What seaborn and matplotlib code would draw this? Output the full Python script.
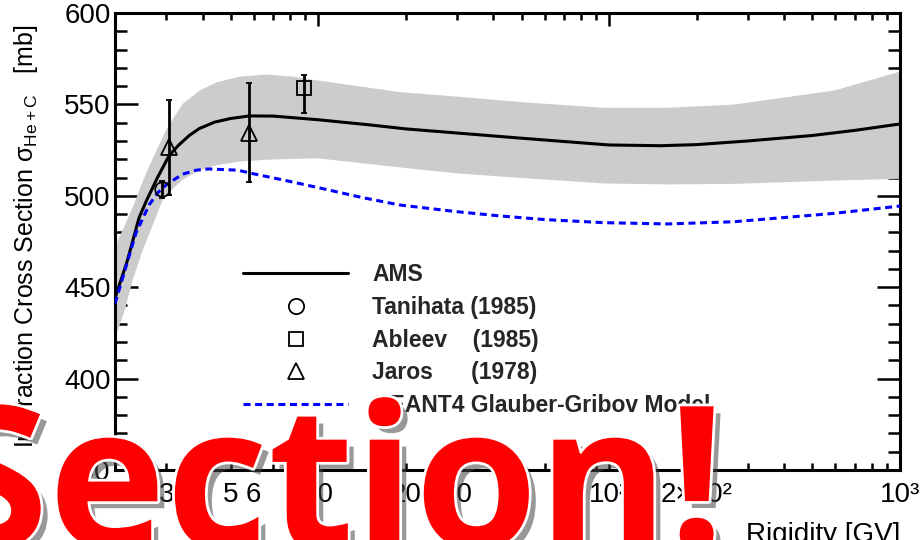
import matplotlib
matplotlib.use('Agg')
import matplotlib.pyplot as plt
import seaborn as sns
import matplotlib.patheffects as pe
from matplotlib.lines import Line2D
from matplotlib.ticker import FixedLocator, FuncFormatter, MultipleLocator

# ---------------- data ----------------
ams_R = [2, 2.2, 2.42, 2.56, 2.8, 3.07, 3.3, 3.6, 3.9, 4.4, 5, 5.8, 7, 10, 15, 20, 50, 100, 150, 200,
         300, 500, 700, 1000]
ams_sigma = [444, 464, 488, 497, 510, 522, 527.5, 533, 536.8, 540.3, 542.3, 543.7, 543.6, 541.6, 538.8,
             536.6, 531.5, 527.8, 527.4, 528, 530, 533, 535.8, 539.3]

band_R = [2, 2.15, 2.3, 2.48, 2.62, 2.9, 3.0, 3.4, 3.9, 4.45, 5.35, 6.6, 8.1, 10, 19, 30, 50, 96, 159,
          268, 594, 1000]
band_hi = [473, 484, 494.5, 508, 517, 532, 537, 550.5, 557.9, 562.3, 565.5, 566.6, 565.5, 563.3, 557,
           554.5, 551.5, 548.4, 548.4, 550.2, 557.9, 568.3]
band_lo = [423, 437.5, 455, 470.4, 480, 497.7, 501, 509, 514.5, 517, 519, 520, 520.5, 520.7, 515.8,
           512.5, 510, 507, 506.5, 506.8, 508.6, 509.6]

g4_R = [2, 2.18, 2.36, 2.62, 2.8, 3.0, 3.41, 3.8, 4.2, 5.3, 5.8, 7.6, 10.1, 14, 19, 30, 42, 60, 96, 159,
        268, 594, 1000]
g4_sigma = [441, 461, 479.6, 495, 501.5, 506, 511.8, 514, 514.7, 514, 512.5, 508.6, 504.3, 499.2, 495,
            491.3, 489, 487, 485.3, 484.6, 485.8, 490.4, 494.4]

tan_R, tan_sigma, tan_err = [2.90], [503.5], [4.5]
abl_R, abl_sigma, abl_err_lo, abl_err_hi = [8.9], [558.8], [13.3], [7.2]
jar_R, jar_sigma, jar_err = [3.07, 5.78], [526.5, 534.5], [26, 27]

x_label_ticks = [2, 3, 5, 6, 10, 20, 30, 100, 200, 1000]
x_label_texts = ['2', '3', '5', '6', '10', '20', '30', '10²', '2×10²', '10³']

legend_labels = ['AMS', 'Tanihata (1985)', 'Ableev    (1985)', 'Jaros      (1978)',
                 'GEANT4 Glauber-Gribov Model']

# ---------------- style ----------------
sns.set_theme(style='ticks')
plt.rcParams['font.family'] = ['Liberation Sans', 'DejaVu Sans']
plt.rcParams['mathtext.fontset'] = 'custom'
plt.rcParams['mathtext.rm'] = 'Liberation Sans'
plt.rcParams['mathtext.it'] = 'Liberation Sans:italic'

fig = plt.figure(figsize=(9.22, 5.40), dpi=100)
ax = fig.add_axes([115 / 922, 1 - 470 / 540, 785 / 922, 457 / 540])
ax.set_xscale('log')

ax.fill_between(band_R, band_lo, band_hi, color='#cccccc', lw=0, zorder=1)
sns.lineplot(x=ams_R, y=ams_sigma, ax=ax, color='black', lw=2.2, zorder=3)
sns.lineplot(x=g4_R, y=g4_sigma, ax=ax, color='#0000ff', lw=2.2, linestyle=(0, (2.3, 1.5)), zorder=3)

ekw = dict(mfc='none', mec='black', mew=1.3, ecolor='black', elinewidth=2, capsize=2.5,
           capthick=2, zorder=4, ls='none')
ax.errorbar(tan_R, tan_sigma, yerr=tan_err, marker='o', ms=10.5, **ekw)
ax.errorbar(abl_R, abl_sigma, yerr=[abl_err_lo, abl_err_hi], marker='s', ms=10, **ekw)
ax.errorbar(jar_R, jar_sigma, yerr=jar_err, marker='^', ms=12, **ekw)

ax.set_xlim(2, 1000)
ax.set_ylim(350, 600)

# ticks
ax.xaxis.set_major_locator(FixedLocator([10, 100, 1000]))
minor = [m * d for d in (1, 10, 100) for m in range(2, 10)]
ax.xaxis.set_minor_locator(FixedLocator(minor))
lab = dict(zip(x_label_ticks, x_label_texts))


def xfmt(v, pos):
    for k, t in lab.items():
        if abs(v - k) / k < 1e-6:
            return t
    return ''


ax.xaxis.set_major_formatter(FuncFormatter(xfmt))
ax.xaxis.set_minor_formatter(FuncFormatter(xfmt))
ax.yaxis.set_major_locator(MultipleLocator(50))
ax.yaxis.set_minor_locator(MultipleLocator(10))

ax.tick_params(which='both', direction='in', top=True, right=True, colors='black', labelsize=20)
ax.tick_params(axis='x', which='major', length=9.5, width=1.8, pad=9)
ax.tick_params(axis='x', which='minor', length=5, width=1.8, pad=9)
ax.tick_params(axis='y', which='major', length=16.5, width=1.8, pad=3)
ax.tick_params(axis='y', which='minor', length=8.6, width=1.8)
for s in ax.spines.values():
    s.set_linewidth(2.2)
    s.set_color('black')
ax.set_xlabel('')
ax.set_ylabel('')

# legend
handles = [
    Line2D([], [], color='black', lw=2.2),
    Line2D([], [], ls='none', marker='o', mfc='none', mec='black', ms=11, mew=1.3),
    Line2D([], [], ls='none', marker='s', mfc='none', mec='black', ms=10.5, mew=1.3),
    Line2D([], [], ls='none', marker='^', mfc='none', mec='black', ms=12, mew=1.3),
    Line2D([], [], color='#0000ff', lw=2.2, linestyle=(0, (2.3, 1.5))),
]
ax.legend(handles, legend_labels, loc='upper left', bbox_to_anchor=(0.163, 0.452), frameon=False,
          prop={'family': 'Liberation Sans', 'weight': 'bold', 'size': 16.5}, handlelength=4.6,
          handletextpad=1.05, labelspacing=0.42, borderpad=0, borderaxespad=0)

# axis titles
fig.text(26 / 922, 1 - 25 / 540, r'Interaction Cross Section σ$_{\mathrm{He+C}}$   [mb]', rotation=90,
         va='top', ha='center', fontsize=18, color='black', zorder=2)
fig.text(900 / 922, 1 - 542 / 540, 'Rigidity [GV]', ha='right', va='baseline', fontsize=20,
         color='black', zorder=2)

# overlay
fig.text(-0.066, -0.015, 'Section!', fontsize=143, family=['Open Sans', 'DejaVu Sans'], weight='bold',
         color='#ff0000', ha='left', va='baseline', zorder=10,
         path_effects=[pe.SimplePatchShadow(offset=(5, -5), shadow_rgbFace='#444444', alpha=0.55),
                       pe.Stroke(linewidth=4, foreground='white'), pe.Normal()])

fig.savefig('out.png', dpi=100)
